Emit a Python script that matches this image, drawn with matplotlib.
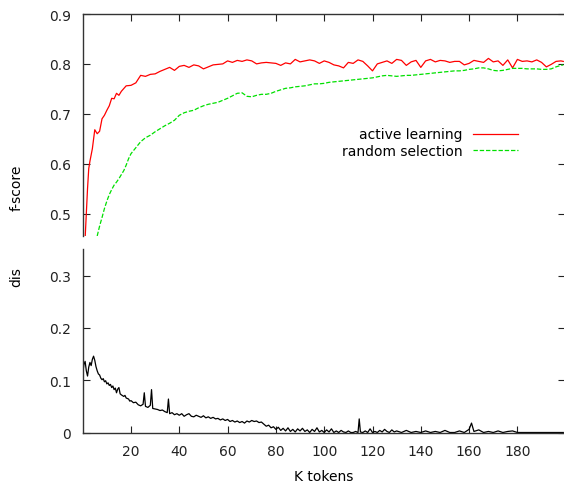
import matplotlib
matplotlib.use("Agg")
import matplotlib.pyplot as plt

plt.rcParams['font.family'] = ['DejaVu Sans']

# ---- data (K tokens) ----
al_k = [1, 1.5, 2, 2.5, 3, 4, 5, 6, 7, 8, 9, 10, 11, 12, 13, 14, 15, 16, 18, 20,
        22, 24, 26, 28, 30, 32, 34, 36, 38, 40, 42, 44, 46, 48, 50, 52, 54, 56, 58, 60,
        62, 64, 66, 68, 70, 72, 74, 76, 78, 80, 82, 84, 86, 88, 90, 92, 94, 96, 98, 100,
        102, 104, 106, 108, 110, 112, 114, 116, 118, 120, 122, 124, 126, 128, 130, 132, 134, 136, 138, 140,
        142, 144, 146, 148, 150, 152, 154, 156, 158, 160, 162, 164, 166, 168, 170, 172, 174, 176, 178, 180,
        182, 184, 186, 188, 190, 192, 194, 196, 198, 199]
al_f = [0.45, 0.50, 0.55, 0.59, 0.605, 0.63, 0.668, 0.660, 0.665, 0.690, 0.697, 0.707, 0.716, 0.731, 0.730, 0.741, 0.737, 0.745, 0.756, 0.757,
        0.762, 0.777, 0.775, 0.779, 0.780, 0.785, 0.789, 0.793, 0.787, 0.795, 0.797, 0.793, 0.798, 0.796, 0.790, 0.794, 0.798, 0.799, 0.800, 0.806,
        0.803, 0.807, 0.805, 0.808, 0.806, 0.800, 0.802, 0.803, 0.802, 0.801, 0.797, 0.802, 0.800, 0.809, 0.804, 0.806, 0.808, 0.806, 0.801, 0.806,
        0.803, 0.798, 0.796, 0.792, 0.803, 0.801, 0.808, 0.805, 0.796, 0.786, 0.800, 0.803, 0.806, 0.801, 0.809, 0.807, 0.797, 0.804, 0.807, 0.793,
        0.806, 0.809, 0.804, 0.807, 0.806, 0.803, 0.805, 0.805, 0.798, 0.801, 0.807, 0.805, 0.803, 0.811, 0.804, 0.806, 0.797, 0.808, 0.792, 0.809,
        0.805, 0.806, 0.804, 0.808, 0.803, 0.794, 0.799, 0.805, 0.806, 0.805]

rs_k = [6, 7, 8, 9, 10, 11, 12, 13, 14, 15, 16, 17, 18, 19, 20,
        22, 24, 26, 28, 30, 32, 34, 36, 38, 40, 42, 44, 46, 48, 50, 52, 54, 56, 58, 60,
        62, 64, 66, 68, 70, 72, 74, 76, 78, 80, 82, 84, 86, 88, 90, 92, 94, 96, 98, 100,
        102, 104, 106, 108, 110, 112, 114, 116, 118, 120, 122, 124, 126, 128, 130, 132, 134, 136, 138, 140,
        142, 144, 146, 148, 150, 152, 154, 156, 158, 160, 162, 164, 166, 168, 170, 172, 174, 176, 178, 180,
        182, 184, 186, 188, 190, 192, 194, 196, 198, 199]
rs_f = [0.455, 0.475, 0.492, 0.510, 0.525, 0.538, 0.548, 0.557, 0.563, 0.570, 0.578, 0.586, 0.597, 0.610, 0.620,
        0.632, 0.644, 0.652, 0.657, 0.664, 0.670, 0.676, 0.681, 0.687, 0.697, 0.702, 0.705, 0.707, 0.712, 0.716, 0.719, 0.721, 0.723, 0.727, 0.731,
        0.736, 0.741, 0.742, 0.735, 0.734, 0.737, 0.739, 0.739, 0.741, 0.745, 0.748, 0.751, 0.752, 0.754, 0.755, 0.756, 0.758, 0.760, 0.760, 0.761,
        0.763, 0.764, 0.765, 0.766, 0.767, 0.768, 0.769, 0.770, 0.771, 0.772, 0.774, 0.776, 0.777, 0.776, 0.775, 0.776, 0.777, 0.777, 0.778, 0.779,
        0.780, 0.781, 0.782, 0.783, 0.784, 0.785, 0.786, 0.786, 0.787, 0.789, 0.790, 0.792, 0.792, 0.790, 0.787, 0.786, 0.787, 0.789, 0.791, 0.791,
        0.791, 0.790, 0.790, 0.790, 0.789, 0.789, 0.790, 0.794, 0.797, 0.798]

dis_k = [0, 0.5, 1, 1.5, 2, 2.5, 3, 3.5, 4, 4.5, 5, 5.5,
         6, 6.5, 7, 7.5, 8, 8.5, 9, 9.5, 10, 10.5, 11, 11.5, 12, 12.5, 13, 13.5, 14, 14.5, 15, 15.5,
         16, 17, 17.5, 18, 19, 19.5, 20, 21, 22, 23, 24,
         25, 25.5, 26, 27, 28, 28.5, 29, 30, 31, 32, 33, 34, 35, 35.5,
         36, 37, 38, 39, 40, 41, 42, 43, 44, 45, 46, 47, 48, 49, 50, 51, 52, 53, 54, 55,
         56, 57, 58, 59, 60, 61, 62, 63, 64, 65, 66, 67, 68, 69, 70, 71, 72, 73, 74, 75,
         76, 77, 78, 79, 80, 81, 82, 83, 84, 85, 86, 87, 88, 89, 90, 91, 92, 93, 94, 95,
         96, 97, 98, 99, 100, 101, 102, 103, 104, 105, 106, 107, 108, 109, 110, 111, 112, 113, 114, 114.5,
         115, 116, 117, 118, 119, 120, 121, 122, 123, 124, 125, 126, 127, 128, 129, 130,
         132, 134, 136, 138, 140, 142, 144, 146, 148, 150, 152, 154, 156, 158, 160, 161, 162, 164, 166, 168,
         170, 172, 174, 176, 178, 180, 190, 199]
dis_v = [0.112, 0.130, 0.136, 0.118, 0.108, 0.125, 0.134, 0.128, 0.140, 0.146, 0.138, 0.126,
         0.118, 0.112, 0.110, 0.104, 0.101, 0.103, 0.097, 0.099, 0.093, 0.095, 0.090, 0.092, 0.086, 0.089, 0.082, 0.085, 0.076, 0.083, 0.086, 0.074,
         0.072, 0.069, 0.071, 0.066, 0.064, 0.060, 0.061, 0.057, 0.058, 0.053, 0.051,
         0.054, 0.076, 0.050, 0.048, 0.052, 0.082, 0.046, 0.045, 0.044, 0.042, 0.043, 0.040, 0.038, 0.064,
         0.036, 0.038, 0.034, 0.036, 0.033, 0.036, 0.031, 0.034, 0.036, 0.031, 0.030, 0.033, 0.031, 0.029, 0.032, 0.028, 0.030, 0.027, 0.029, 0.026,
         0.027, 0.024, 0.026, 0.023, 0.025, 0.021, 0.023, 0.020, 0.022, 0.019, 0.021, 0.018, 0.022, 0.020, 0.023, 0.021, 0.022, 0.019, 0.020, 0.016,
         0.012, 0.014, 0.009, 0.011, 0.006, 0.010, 0.004, 0.008, 0.003, 0.009, 0.002, 0.006, 0.001, 0.007, 0.003, 0.008, 0.002, 0.005, 0.000, 0.006,
         0.002, 0.009, 0.001, 0.004, 0.000, 0.005, 0.001, 0.007, 0.000, 0.003, 0.000, 0.004, 0.001, 0.000, 0.003, 0.000, 0.000, 0.002, 0.000, 0.026,
         0.001, 0.000, 0.003, 0.000, 0.007, 0.000, 0.002, 0.000, 0.004, 0.001, 0.006, 0.002, 0.000, 0.005, 0.001, 0.003,
         0.000, 0.004, 0.000, 0.002, 0.000, 0.003, 0.000, 0.002, 0.000, 0.004, 0.000, 0.000, 0.003, 0.000, 0.006, 0.018, 0.002, 0.005, 0.000, 0.002,
         0.000, 0.003, 0.000, 0.002, 0.003, 0.000, 0.000, 0.000]

x_ticks = [20, 40, 60, 80, 100, 120, 140, 160, 180]
f_ticks = [0.5, 0.6, 0.7, 0.8, 0.9]
d_ticks = [0, 0.1, 0.2, 0.3]

W, H = 564, 485
fig = plt.figure(figsize=(W / 100, H / 100), dpi=100)

left = 82.7
right = 564.5
ax1 = fig.add_axes([left / W, (H - 236.5) / H, (right - left) / W, (236.5 - 15) / H])
ax2 = fig.add_axes([left / W, (H - 433.5) / H, (right - left) / W, (433.5 - 250) / H])

FS = 10
for ax in (ax1, ax2):
    ax.set_xlim(0, (right - left) / 2.415)
    ax.set_xticks(x_ticks)
    ax.tick_params(direction='in', length=5, width=0.8, colors='#222222', labelsize=FS,
                   right=True, pad=8.4)
    ax.spines['right'].set_visible(False)
    for s in ax.spines.values():
        s.set_linewidth(1.0)
        s.set_color('#333333')

# top panel
ax1.plot(al_k, al_f, color='#ff0000', lw=0.9, label='active learning')
ax1.plot(rs_k, rs_f, color='#00e000', lw=0.9, dashes=(3.5, 1.5), label='random selection')
ax1.set_ylim(0.456, 0.9)
ax1.set_yticks(f_ticks)
ax1.set_yticklabels([f"{v:.1f}" for v in f_ticks])
ax1.spines['bottom'].set_visible(False)
ax1.tick_params(axis='x', top=True, bottom=False, labelbottom=False)
ax1.set_ylabel('f-score', fontsize=FS)
ax1.yaxis.set_label_coords(-0.1225, 0.22)
leg = ax1.legend(loc='center right', bbox_to_anchor=(0.9045, 0.42), frameon=False,
                 markerfirst=False, fontsize=FS, handlelength=3.3, handletextpad=0.72,
                 labelspacing=0.15, borderpad=0, borderaxespad=0)

# bottom panel
ax2.plot(dis_k, dis_v, color='black', lw=0.9)
ax2.set_ylim(0, 0.351)
ax2.set_yticks(d_ticks)
ax2.set_yticklabels(['0', '0.1', '0.2', '0.3'])
ax2.spines['top'].set_visible(False)
ax2.tick_params(axis='x', top=False)
ax2.set_ylabel('dis', fontsize=FS)
ax2.yaxis.set_label_coords(-0.1225, 0.853)
ax2.set_xlabel('K tokens', fontsize=FS)
ax2.xaxis.set_label_coords(0.5, -0.2)

fig.savefig('out.png', dpi=100)
